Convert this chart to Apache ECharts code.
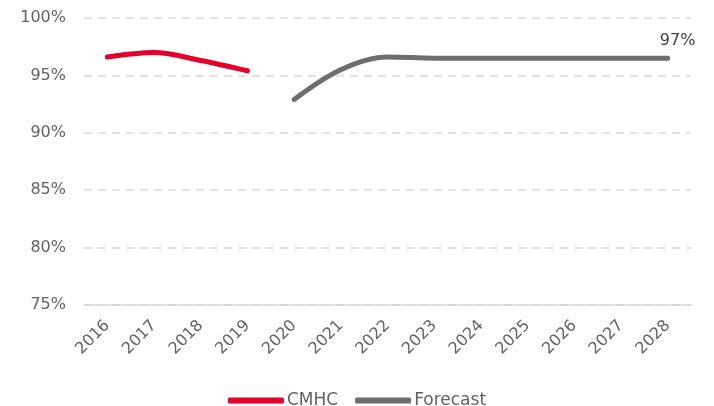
<!DOCTYPE html>
<html><head><meta charset="utf-8">
<script src="https://cdn.jsdelivr.net/npm/echarts@6/dist/echarts.min.js"></script>
<style>html,body{margin:0;padding:0;background:#fff}#c{width:714px;height:406px}</style>
</head><body><div id="c"></div>
<script>
const categories = ['2016','2017','2018','2019','2020','2021','2022','2023','2024','2025','2026','2027','2028'];
const cmhc = [96.6, 97.0, 96.3, 95.4, null, null, null, null, null, null, null, null, null];
const forecast = [null, null, null, null, 92.9, 95.5, 96.6, 96.5, 96.5, 96.5, 96.5, 96.5, 96.5];
const yTicks = {min: 75, max: 100, interval: 5};

const font = '"DejaVu Sans", sans-serif';
const chart = echarts.init(document.getElementById('c'));
chart.setOption({
  animation: false,
  grid: {left: 84, right: 23, top: 18, bottom: 101},
  xAxis: {
    type: 'category', data: categories, boundaryGap: true,
    axisLine: {show: true, lineStyle: {color: '#d9d9d9', width: 1.5}},
    axisTick: {show: false},
    axisLabel: {rotate: 45, color: '#626262', fontSize: 16, fontFamily: font, margin: 18, interval: 0}
  },
  yAxis: {
    type: 'value', min: yTicks.min, max: yTicks.max, interval: yTicks.interval,
    axisLine: {show: false}, axisTick: {show: false},
    axisLabel: {formatter: v => v + '%', color: '#626262', fontSize: 16, fontFamily: font, margin: 18},
    splitLine: {lineStyle: {color: '#d9d9d9', type: [8, 6], width: 1.5}}
  },
  legend: {
    top: 387, left: 'center', itemWidth: 56, itemHeight: 6, itemGap: 17,
    icon: 'roundRect',
    textStyle: {color: '#626262', fontSize: 17, fontFamily: font, padding: [0, 0, 0, -2]},
    data: ['CMHC', 'Forecast']
  },
  series: [
    {name: 'CMHC', type: 'line', data: cmhc, smooth: 0.35, symbol: 'none',
     lineStyle: {color: '#E4002B', width: 5, cap: 'round'}, itemStyle: {color: '#E4002B'}},
    {name: 'Forecast', type: 'line', data: forecast, smooth: 0.35, symbol: 'none',
     lineStyle: {color: '#6d6d6d', width: 5, cap: 'round'}, itemStyle: {color: '#6d6d6d'},
     markPoint: {
       symbol: 'circle', symbolSize: 0,
       label: {show: true, position: 'top', distance: 9, formatter: '97%', color: '#404040', fontSize: 16, fontFamily: font, offset: [10, 0]},
       data: [{coord: ['2028', 96.5]}]
     }}
  ]
});
</script></body></html>
